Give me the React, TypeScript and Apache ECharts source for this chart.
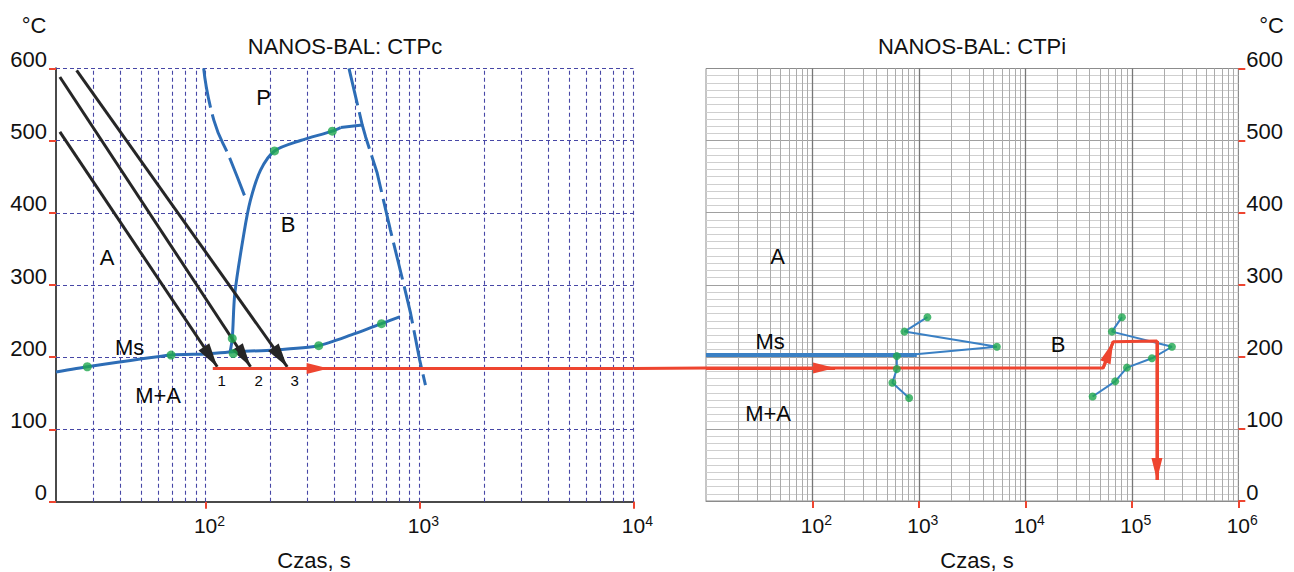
import React, { useEffect, useRef } from "react";
import * as echarts from "echarts";

const FONT = "'Liberation Sans', Arial, Helvetica, sans-serif";
const RED = "#ee4530";
const BLUE = "#2d6db6";
const BLUE2 = "#3a80c4";
const GREEN = "#1fa84f";
const BLACK = "#262626";
const GRIDBLUE = "#4747a6";

// ---------- CTPc (left panel) data: [time s, temperature °C] ----------
const msCurveC: [number, number][] = [
  [20, 179.5], [28, 186.8], [69, 203], [100, 204.5], [135, 207.5], [208, 210],
  [338, 216], [476, 230.5], [664, 246.5], [807, 256],
];
const msDotsC: [number, number][] = [[28, 186.8], [69, 203], [338, 216], [664, 246.5]];
const bainiteStartC: [number, number][] = [
  [130, 206], [133.3, 226], [137, 288], [151, 371], [162, 417], [180.7, 459],
  [210, 485.6], [278, 500], [391, 513], [428, 518],
];
const bainiteDotsC: [number, number][] = [[133.3, 226], [134.7, 205], [210, 485.6], [391, 513]];
const bainiteDashC: [number, number][] = [[428, 518], [540, 521.5]];
const endCurveC: [number, number][] = [
  [468, 600], [540, 521.5], [560, 505], [634, 455], [731, 376], [845, 300],
  [908, 261], [1002, 196], [1066, 161.5],
];
const pearliteC: [number, number][] = [[98, 600], [109.4, 528], [130.8, 473], [152, 424]];
const cooling1: [number, number][] = [[20.85, 511.9], [113.4, 186.8]];
const cooling2: [number, number][] = [[20.85, 588], [162.3, 186.8]];
const cooling3: [number, number][] = [[24.97, 597], [240.9, 186.8]];
const RED_T = 184.5;
const redStartC = 108.2;
const redArrowTipC = 376;
const labelsC: [number, number, string, number][] = [
  [186.6, 560, "P", 22], [243, 384, "B", 22], [34.7, 338, "A", 22],
  [44.2, 213, "Ms", 22], [60, 147.6, "M+A", 22],
  [118.8, 168.4, "1", 15], [176.9, 168.4, "2", 15], [260.6, 168.4, "3", 15],
];

// ---------- CTPi (right panel) data ----------
const msLineI: [number, number][] = [[10, 202.6], [955, 202.6]];
const cluster1I: [number, number][] = [
  [1202, 255], [731, 235], [5400, 214], [620, 201], [620, 183], [563, 164], [809, 143],
];
const cluster2I: [number, number][] = [
  [80700, 255], [65000, 235], [238000, 214], [154500, 198], [90000, 185], [69800, 166], [42800, 145],
];
const redPathI: [number, number][] = [
  [10, RED_T], [53800, RED_T], [66800, 221], [172000, 222], [172000, 29],
];
const redArrowTipI = 163;
const labelsI: [number, number, string, number][] = [
  [47, 339, "A", 22], [40, 221, "Ms", 22], [38.3, 122, "M+A", 22], [20300, 216.5, "B", 22],
];

const LEFT_MIN = 20, LEFT_MAX = 10000;
const RIGHT_MIN = 10, RIGHT_MAX = 1000000;
const leftDecades = [100, 1000, 10000];
const rightDecades = [100, 1000, 10000, 100000, 1000000];
const yTicks = [0, 100, 200, 300, 400, 500, 600];

const ARROW_RED = "path://M0 0 M44 44 M22 22 L27.5 44 L16.5 44 Z";
const ARROW_BLACK = "path://M0 0 M48 48 M24 24 L30.5 48 L17.5 48 Z";

function logGridValues(min: number, max: number) {
  const out: number[] = [];
  for (let d = 1; d <= max; d *= 10) {
    for (let k = 1; k <= 9; k++) {
      const v = d * k;
      if (v > min && v <= max) out.push(v);
    }
  }
  return out;
}

export default function App() {
  const ref = useRef<HTMLDivElement>(null);
  useEffect(() => {
    if (!ref.current) return;
    const chart = echarts.init(ref.current, undefined, { renderer: "svg" });

    const leftV = logGridValues(LEFT_MIN, LEFT_MAX);
    const rightV = logGridValues(RIGHT_MIN, RIGHT_MAX).filter((v) => v < RIGHT_MAX);
    const isDecade = (v: number) => Math.abs(Math.log10(v) - Math.round(Math.log10(v))) < 1e-9;
    const rightH: number[] = [];
    for (let t = 10; t < 600; t += 10) rightH.push(t);

    const xLabel = (v: number) => {
      const e = Math.round(Math.log10(v));
      return `{sp|${e}}{b|10}{sup|${e}}`;
    };
    const rich = {
      b: { fontSize: 21, fontFamily: FONT, color: "#111", lineHeight: 24 },
      sup: { fontSize: 14, fontFamily: FONT, color: "#111", verticalAlign: "top", lineHeight: 16 },
      sp: { fontSize: 14, fontFamily: FONT, color: "rgba(0,0,0,0)", verticalAlign: "top", lineHeight: 16 },
    };
    const yLabel = {
      fontSize: 22, fontFamily: FONT, color: "#111", verticalAlign: "bottom", lineHeight: 18,
    };

    const gridLines = (xi: number, segs: [number, number][][], color: string, width: number, type: any) => ({
      type: "lines", coordinateSystem: "cartesian2d", xAxisIndex: xi, yAxisIndex: xi,
      silent: true, z: 1, polyline: false,
      lineStyle: { color, width, type, opacity: 1, curveness: 0 },
      data: segs.map((c) => ({ coords: c })),
    });
    const curve = (xi: number, data: [number, number][], color: string, width: number, type: any = "solid", smooth: any = false, z = 3) => ({
      type: "line", xAxisIndex: xi, yAxisIndex: xi, data, showSymbol: false, symbol: "none",
      smooth, silent: true, z, lineStyle: { color, width, type, cap: "butt" },
    });
    const dots = (xi: number, data: [number, number][], size = 9) => ({
      type: "scatter", xAxisIndex: xi, yAxisIndex: xi, data, symbol: "circle", symbolSize: size,
      silent: true, z: 6, itemStyle: { color: GREEN },
    });
    const arrows = (xi: number, segs: [number, number][][], color: string, path: string, size: number) => ({
      type: "lines", coordinateSystem: "cartesian2d", xAxisIndex: xi, yAxisIndex: xi,
      silent: true, z: 5, symbol: ["none", path], symbolSize: size,
      lineStyle: { color, width: 3, opacity: 1, curveness: 0 },
      itemStyle: { color },
      data: segs.map((c) => ({ coords: c })),
    });
    const labels = (xi: number, items: [number, number, string, number][]) => ({
      type: "scatter", xAxisIndex: xi, yAxisIndex: xi, symbolSize: 1, silent: true, z: 7,
      itemStyle: { color: "rgba(255,255,255,0)" },
      data: items.map(([t, T, s, f]) => ({
        value: [t, T], name: s,
        label: {
          show: true, position: "inside", formatter: "{b}", fontSize: f, fontFamily: FONT,
          color: "#0a0a0a", textBorderWidth: 0, textBorderColor: "transparent", opacity: 1,
        },
      })),
    });

    const texts = [
      { id: "t1", text: "NANOS-BAL: CTPc", x: 345, y: 46.5 },
      { id: "t2", text: "NANOS-BAL: CTPi", x: 972, y: 46.5 },
      { id: "t3", text: "°C", x: 34, y: 25 },
      { id: "t4", text: "°C", x: 1271.5, y: 25 },
      { id: "t5", text: "Czas, s", x: 314, y: 560 },
      { id: "t6", text: "Czas, s", x: 977, y: 560 },
    ].map((o) => ({
      type: "text", id: o.id, x: o.x, y: o.y, silent: true,
      style: {
        text: o.text, font: `22px ${FONT}`, fill: "#111",
        align: "center", verticalAlign: "middle", textAlign: "center", textVerticalAlign: "middle",
      },
    }));

    const option: any = {
      animation: false,
      backgroundColor: "#fff",
      grid: [
        { left: 56, top: 68.3, width: 577.5, height: 433.4, show: false },
        { left: 706, top: 68.5, width: 532.3, height: 432.5, show: true, borderColor: "#8c8c8c", borderWidth: 1, backgroundColor: "transparent" },
      ],
      xAxis: [
        {
          type: "log", logBase: 10, min: LEFT_MIN, max: LEFT_MAX, gridIndex: 0,
          axisLine: { show: true, lineStyle: { color: "#4a4a4a", width: 2 } },
          axisTick: { show: true, customValues: leftDecades, length: 7, lineStyle: { color: RED, width: 2 } },
          axisLabel: { customValues: leftDecades, formatter: xLabel, margin: 12, rich },
          splitLine: { show: false }, minorTick: { show: false },
        },
        {
          type: "log", logBase: 10, min: RIGHT_MIN, max: RIGHT_MAX, gridIndex: 1,
          axisLine: { show: true, lineStyle: { color: "#8c8c8c", width: 1 } },
          axisTick: { show: true, customValues: rightDecades, length: 7, lineStyle: { color: RED, width: 2 } },
          axisLabel: { customValues: rightDecades, formatter: xLabel, margin: 12, rich },
          splitLine: { show: false },
        },
      ],
      yAxis: [
        {
          type: "value", min: 0, max: 600, interval: 100, gridIndex: 0,
          axisLine: { show: true, lineStyle: { color: "#4a4a4a", width: 2 } },
          axisTick: { show: true, length: 7, lineStyle: { color: RED, width: 2 } },
          axisLabel: { ...yLabel, margin: 9 },
          splitLine: { show: false },
        },
        {
          type: "value", min: 0, max: 600, interval: 100, gridIndex: 1, position: "right",
          axisLine: { show: true, lineStyle: { color: "#8c8c8c", width: 1 } },
          axisTick: { show: true, length: 7, lineStyle: { color: RED, width: 2 } },
          axisLabel: { ...yLabel, margin: 8 },
          splitLine: { show: false },
        },
      ],
      series: [
        // left grid lines
        gridLines(0, leftV.map((v) => [[v, 0], [v, 600]] as [number, number][]), GRIDBLUE, 1.1, [4, 3]),
        gridLines(0, yTicks.filter((t) => t > 0).map((t) => [[LEFT_MIN, t], [LEFT_MAX, t]] as [number, number][]), GRIDBLUE, 1.1, [4, 3]),
        // right grid lines
        gridLines(1, rightH.filter((t) => t % 100 !== 0).map((t) => [[RIGHT_MIN, t], [RIGHT_MAX, t]] as [number, number][]), "#cfcfcf", 1, "solid"),
        gridLines(1, rightH.filter((t) => t % 100 === 0).map((t) => [[RIGHT_MIN, t], [RIGHT_MAX, t]] as [number, number][]), "#a0a0a0", 1, "solid"),
        gridLines(1, rightV.filter((v) => !isDecade(v)).map((v) => [[v, 0], [v, 600]] as [number, number][]), "#ababab", 1, "solid"),
        gridLines(1, rightV.filter((v) => isDecade(v) && v > RIGHT_MIN).map((v) => [[v, 0], [v, 600]] as [number, number][]), "#777777", 1.3, "solid"),

        // left curves
        curve(0, pearliteC, BLUE, 3, [40, 7], true),
        curve(0, endCurveC, BLUE, 3, [38, 7], false),
        curve(0, bainiteDashC, BLUE, 3, [30, 6], false),
        curve(0, bainiteStartC, BLUE, 3, "solid", 0.3),
        curve(0, msCurveC, BLUE, 3, "solid", 0.2),
        curve(0, [[redStartC, RED_T], [LEFT_MAX, RED_T]], RED, 3),
        arrows(0, [cooling1, cooling2, cooling3], BLACK, ARROW_BLACK, 48),
        arrows(0, [[[redStartC, RED_T], [redArrowTipC, RED_T]]], RED, ARROW_RED, 44),
        dots(0, msDotsC),
        dots(0, bainiteDotsC),
        labels(0, labelsC),

        // right curves
        curve(1, msLineI, BLUE2, 4),
        curve(1, cluster1I, BLUE2, 2),
        curve(1, cluster2I, BLUE2, 2),
        curve(1, redPathI, RED, 3),
        arrows(1, [
          [[RIGHT_MIN, RED_T], [redArrowTipI, RED_T]],
          [redPathI[1], redPathI[2]],
          [redPathI[3], redPathI[4]],
        ], RED, ARROW_RED, 44),
        dots(1, cluster1I, 8),
        dots(1, cluster2I, 8),
        labels(1, labelsI),
      ],
      graphic: texts,
    };

    chart.setOption(option);

    const p1 = chart.convertToPixel({ gridIndex: 0 } as any, [LEFT_MAX, RED_T]) as any;
    const p2 = chart.convertToPixel({ gridIndex: 1 } as any, [RIGHT_MIN, RED_T]) as any;
    if (p1 && p2) {
      chart.setOption({
        graphic: [
          ...texts,
          {
            type: "line", id: "gap", silent: true, z: 10,
            shape: { x1: p1[0], y1: p1[1], x2: p2[0], y2: p2[1] },
            style: { stroke: RED, lineWidth: 3 },
          },
        ],
      });
    }

    return () => chart.dispose();
  }, []);

  return (
    <div
      ref={ref}
      style={{ position: "fixed", left: 0, top: 0, width: 1294, height: 572, background: "#fff" }}
    />
  );
}
